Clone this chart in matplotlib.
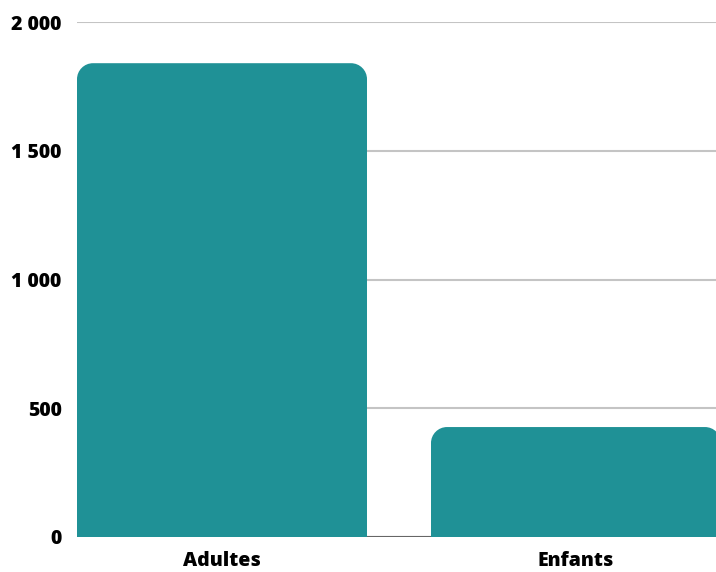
import matplotlib
matplotlib.use("Agg")
import matplotlib.pyplot as plt
from matplotlib.path import Path
from matplotlib.patches import PathPatch
from matplotlib.ticker import FuncFormatter

categories = ["Adultes", "Enfants"]
values = [1840, 427]

bar_color = "#1f9196"

fig = plt.figure(figsize=(7.16, 5.72), dpi=100)
ax = fig.add_axes([77 / 716, 35 / 572, 639 / 716, 515 / 572])
# one category step = 354 px, bars 290 px wide
step_px = 354.0
ax.set_xlim(-145 / step_px, -145 / step_px + 639 / step_px)
ax.set_ylim(0, 2000)

# pixel -> data scaling for the rounded corners
px_y = 515 / 2000.0
radius_px = 16
rx = radius_px / step_px
ry = radius_px / px_y
k = 0.5523


def rounded_top_bar(x0, x1, h):
    verts = [
        (x0, 0), (x0, h - ry),
        (x0, h - ry + k * ry), (x0 + rx - k * rx, h), (x0 + rx, h),
        (x1 - rx, h),
        (x1 - rx + k * rx, h), (x1, h - ry + k * ry), (x1, h - ry),
        (x1, 0), (x0, 0),
    ]
    codes = [Path.MOVETO, Path.LINETO,
             Path.CURVE4, Path.CURVE4, Path.CURVE4,
             Path.LINETO,
             Path.CURVE4, Path.CURVE4, Path.CURVE4,
             Path.LINETO, Path.CLOSEPOLY]
    return Path(verts, codes)


width = 290 / step_px
for i, v in enumerate(values):
    p = PathPatch(rounded_top_bar(i - width / 2, i + width / 2, v),
                  facecolor=bar_color, edgecolor="none", zorder=3)
    ax.add_patch(p)

ax.set_yticks([0, 500, 1000, 1500, 2000])
ax.yaxis.set_major_formatter(FuncFormatter(lambda v, _: f"{int(v):,}".replace(",", " ")))
ax.set_xticks(range(len(categories)))
ax.set_xticklabels(categories)

ax.grid(axis="y", color="#c4c4c4", linewidth=1.5, zorder=0)
ax.axhline(0, color="#666666", linewidth=1.5, zorder=2)

for s in ax.spines.values():
    s.set_visible(False)
ax.tick_params(length=0)
ax.tick_params(axis="y", pad=11)
ax.tick_params(axis="x", pad=10)
for lab in ax.get_xticklabels() + ax.get_yticklabels():
    lab.set_fontfamily("Open Sans")
    lab.set_fontweight(800)
    lab.set_fontsize(14)

fig.savefig("out.png", dpi=100)
